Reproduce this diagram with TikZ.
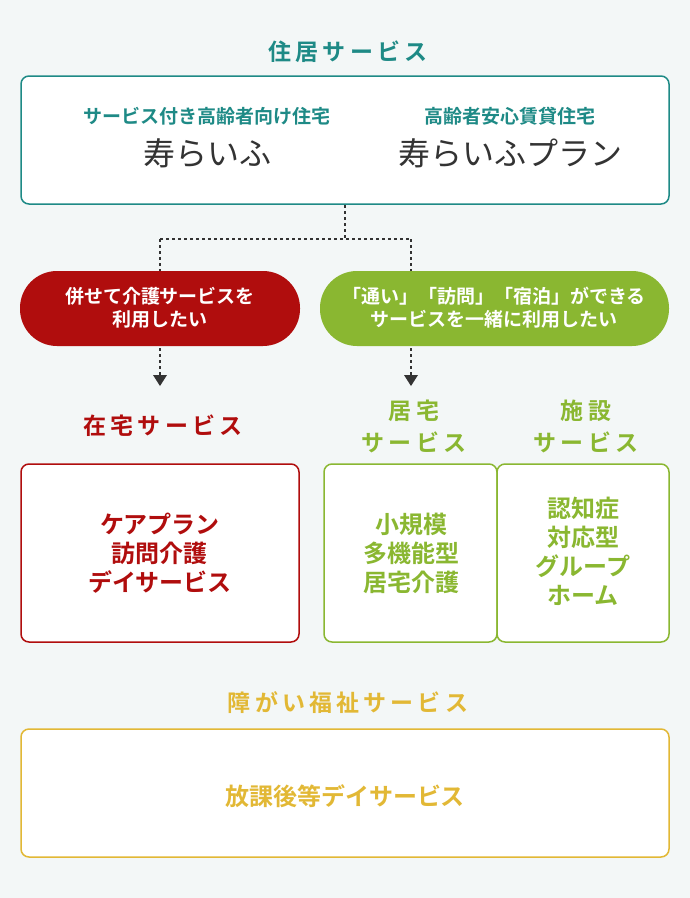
\documentclass[tikz,border=0pt]{standalone}
\usepackage{fontspec}
\setmainfont{Noto Sans CJK JP}
\newfontfamily\jpb{Noto Sans CJK JP Bold}
\newfontfamily\jpsp[LetterSpace=18]{Noto Sans CJK JP Bold}
\newfontfamily\jpr{Noto Sans CJK JP}
\usetikzlibrary{arrows.meta}
\definecolor{teal1}{HTML}{1E8A86}
\definecolor{red1}{HTML}{B00D0D}
\definecolor{grn1}{HTML}{8AB731}
\definecolor{yel1}{HTML}{E2B835}
\definecolor{bg1}{HTML}{F3F7F7}
\definecolor{dk}{HTML}{333333}
\begin{document}
\begin{tikzpicture}[x=1pt,y=-1pt,
  panel/.style={draw=#1,line width=1.5pt,fill=white,rounded corners=8pt},
  head/.style={text=#1,font=\jpsp\fontsize{23}{32}\selectfont,align=center},
  inner/.style={text=#1,font=\jpb\fontsize{24}{29}\selectfont,align=center},
  pilltxt/.style={text=white,font=\jpb\fontsize{19}{23}\selectfont,align=center},
  subt/.style={text=teal1,font=\jpb\fontsize{19}{22}\selectfont},
  brand/.style={text=dk,font=\jpr\fontsize{32}{36}\selectfont},
  dots/.style={dk,line width=2.5pt,dash pattern=on 2.5pt off 3.5pt}]
\useasboundingbox[fill=bg1] (0,0) rectangle (690,898);
\node[head=teal1] (t1) at (348,52) {住居サービス};
\draw[panel=teal1] (21,76) rectangle (669,204);
\node[subt] (s1) at (207,116) {サービス付き高齢者向け住宅};
\node[brand] (b1) at (207,153) {寿らいふ};
\node[subt] (s2) at (510,116) {高齢者安心賃貸住宅};
\node[brand] (b2) at (510,153) {寿らいふプラン};
\coordinate (top) at (345,205);
\coordinate (mid) at (345,239);
\coordinate (l) at (160,239);
\coordinate (r) at (411,239);
\fill[red1,rounded corners=37pt] (20,271) rectangle (300,346);
\node[pilltxt] (p1) at (160,308) {併せて介護サービスを\\利用したい};
\fill[grn1,rounded corners=37pt] (320,271) rectangle (669,346);
\node[pilltxt] (p2) at (494,308) {「通い」「訪問」「宿泊」ができる\\サービスを一緒に利用したい};
\draw[dots] (top) -- (mid) (l) -- (r) (l) -- (160,271) (r) -- (411,271);
\draw[dots] (160,348) -- (160,378);
\draw[dots] (411,348) -- (411,378);
\fill[dk] (153,375) -- (167,375) -- (160,386) -- cycle;
\fill[dk] (404,375) -- (418,375) -- (411,386) -- cycle;
\node[head=red1] (h1) at (163,426) {在宅サービス};
\node[head=grn1] (h2) at (414,426) {居宅\\サービス};
\node[head=grn1] (h3) at (586,426) {施設\\サービス};
\draw[panel=red1] (21,464) rectangle (299,642);
\node[inner=red1] (i1) at (160,553) {ケアプラン\\訪問介護\\デイサービス};
\draw[panel=grn1] (324,464) rectangle (497,642);
\draw[panel=grn1] (497,464) rectangle (669,642);
\node[inner=grn1] (i2) at (411,553) {小規模\\多機能型\\居宅介護};
\node[inner=grn1] (i3) at (583,551) {認知症\\対応型\\グループ\\ホーム};
\node[head=yel1] (h4) at (348,703) {障がい福祉サービス};
\draw[panel=yel1] (21,729) rectangle (669,857);
\node[inner=yel1] (i4) at (345,796) {放課後等デイサービス};
\end{tikzpicture}
\end{document}
